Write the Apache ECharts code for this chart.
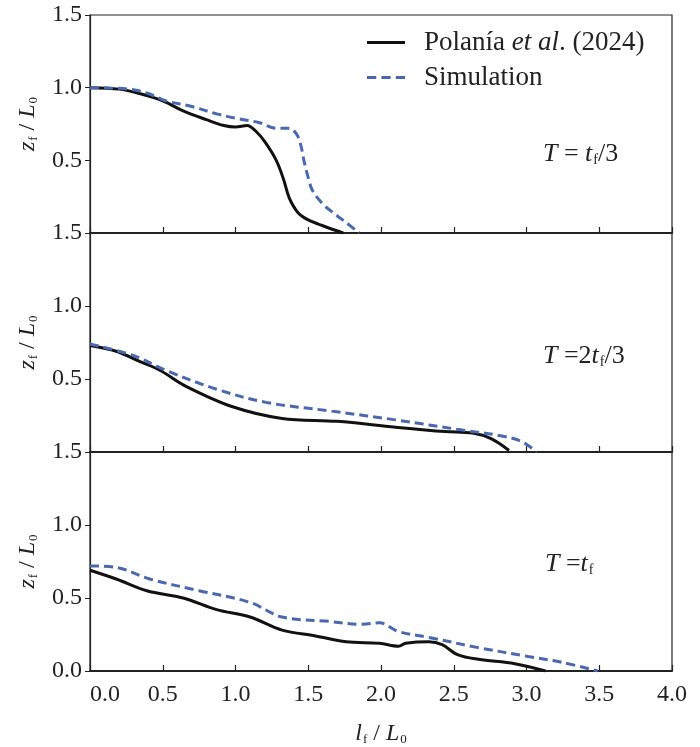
<!DOCTYPE html>
<html>
<head>
<meta charset="utf-8">
<script src="https://cdn.jsdelivr.net/npm/echarts@6/dist/echarts.min.js"></script>
<style>
  html, body { margin: 0; padding: 0; background: #fff; }
  .chartBox { width: 700px; height: 747px; }
</style>
</head>
<body>
<div class="chartBox"></div>
<script>
// x ticks shared by all panels
const xTicks = [0, 0.5, 1.0, 1.5, 2.0, 2.5, 3.0, 3.5, 4.0];
const yTicks = [0, 0.5, 1.0, 1.5];

const seriesNames = ['Polanía et al. (2024)', 'Simulation'];

// panel 1, T = tf/3
const p1ExpX = [0, 0.2, 0.34, 0.5, 0.64, 0.8, 0.92, 1.0, 1.08, 1.14, 1.2, 1.28, 1.33, 1.37, 1.43, 1.5, 1.6, 1.74];
const p1ExpY = [1.0, 0.99, 0.96, 0.91, 0.84, 0.78, 0.74, 0.73, 0.74, 0.70, 0.63, 0.50, 0.37, 0.24, 0.14, 0.09, 0.05, 0.0];
const p1SimX = [0, 0.27, 0.4, 0.52, 0.7, 0.87, 1.0, 1.16, 1.28, 1.37, 1.42, 1.45, 1.47, 1.5, 1.53, 1.6, 1.67, 1.75, 1.85];
const p1SimY = [1.0, 0.99, 0.96, 0.91, 0.87, 0.82, 0.79, 0.76, 0.72, 0.72, 0.68, 0.60, 0.50, 0.38, 0.29, 0.20, 0.14, 0.08, 0.0];

// panel 2, T = 2tf/3
const p2ExpX = [0, 0.18, 0.34, 0.48, 0.66, 0.98, 1.32, 1.7, 2.1, 2.44, 2.63, 2.76, 2.88];
const p2ExpY = [0.73, 0.69, 0.62, 0.56, 0.45, 0.31, 0.23, 0.21, 0.17, 0.14, 0.13, 0.09, 0.01];
const p2SimX = [0, 0.3, 0.52, 0.87, 1.21, 1.66, 2.1, 2.56, 2.83, 2.97, 3.07];
const p2SimY = [0.74, 0.66, 0.56, 0.43, 0.34, 0.28, 0.22, 0.15, 0.11, 0.07, 0.0];

// panel 3, T = tf
const p3ExpX = [0, 0.18, 0.39, 0.64, 0.87, 1.1, 1.32, 1.55, 1.76, 1.99, 2.12, 2.17, 2.33, 2.42, 2.53, 2.67, 2.92, 3.13];
const p3ExpY = [0.69, 0.63, 0.55, 0.50, 0.42, 0.37, 0.28, 0.24, 0.20, 0.19, 0.17, 0.19, 0.20, 0.18, 0.11, 0.08, 0.05, 0.0];
const p3SimX = [0, 0.18, 0.41, 0.75, 1.1, 1.32, 1.64, 1.87, 1.99, 2.12, 2.33, 2.67, 3.01, 3.24, 3.49];
const p3SimY = [0.72, 0.71, 0.63, 0.55, 0.47, 0.37, 0.34, 0.32, 0.33, 0.27, 0.23, 0.16, 0.10, 0.06, 0.0];

const FONT = '"Liberation Serif", "DejaVu Serif", serif';
const TXT = '#222';

function pairs(xs, ys){
    return xs.map((x, i) => [x, ys[i]]);
}

// rich styles for subscripts like z_f
function richSet(size){
    return {
        n: { fontFamily: FONT, fontSize: size, color: TXT },
        i: { fontFamily: FONT, fontSize: size, fontStyle: 'italic', color: TXT },
        s: { fontFamily: FONT, fontSize: Math.round(size * 0.55), color: TXT, padding: [Math.round(size * 0.5), 0, 0, 1] }
    };
}

function makeGrid(top, height){
    return {
        left: 90, width: 582, top: top, height: height,
        show: true, borderColor: '#222', borderWidth: 1.2, backgroundColor: 'transparent'
    };
}

function makeXAxis(idx, last){
    return {
        type: 'value', gridIndex: idx, min: 0, max: 4, interval: 0.5,
        axisLine: { show: true, lineStyle: { color: '#222', width: 2 } },
        axisTick: { show: true, inside: true, length: 6, lineStyle: { color: '#222', width: 1.2 } },
        splitLine: { show: false },
        axisLabel: {
            show: last, margin: 12, alignMinLabel: 'left',
            fontFamily: FONT, fontSize: 24, color: TXT,
            formatter: v => v.toFixed(1)
        },
        name: last ? '{i|l}{s|f}{n| / }{i|L}{s|0}' : '',
        nameLocation: 'middle', nameGap: 50,
        nameTextStyle: { rich: richSet(24) }
    };
}

function makeYAxis(idx, last){
    return {
        type: 'value', gridIndex: idx, min: 0, max: 1.5, interval: 0.5,
        axisLine: { show: true, lineStyle: { color: '#222', width: 1.2 } },
        axisTick: { show: true, inside: false, length: 5, lineStyle: { color: '#222', width: 1 } },
        splitLine: { show: false },
        axisLabel: {
            margin: 8, fontFamily: FONT, fontSize: 24, color: TXT,
            formatter: v => (v === 0 && !last) ? '' : v.toFixed(1)
        },
        name: '{i|z}{s|f}{n| / }{i|L}{s|0}',
        nameLocation: 'middle', nameRotate: 90, nameGap: 50,
        nameTextStyle: { rich: richSet(24) }
    };
}

function expLine(idx, data){
    return {
        name: seriesNames[0], type: 'line', xAxisIndex: idx, yAxisIndex: idx,
        data: data, showSymbol: false, symbol: 'none', smooth: 0.35,
        lineStyle: { color: '#111', width: 3, type: 'solid' },
        itemStyle: { color: '#111' }
    };
}

function simLine(idx, data){
    return {
        name: seriesNames[1], type: 'line', xAxisIndex: idx, yAxisIndex: idx,
        data: data, showSymbol: false, symbol: 'none', smooth: 0.35,
        lineStyle: { color: '#4a68b0', width: 3, type: [9, 5] },
        itemStyle: { color: '#4a68b0' }
    };
}

function panelLabel(x, y, parts){
    return {
        type: 'text', left: x, top: y,
        style: { text: parts, rich: richSet(26), fill: TXT }
    };
}

function createChart(){
    let chartDom = document.querySelector('.chartBox');
    let myChart = echarts.init(chartDom);
    let option;

    option = {
        backgroundColor: '#fff',
        animation: false,
        grid: [makeGrid(15, 218), makeGrid(233, 219), makeGrid(452, 219)],
        xAxis: [makeXAxis(0, false), makeXAxis(1, false), makeXAxis(2, true)],
        yAxis: [makeYAxis(0, false), makeYAxis(1, false), makeYAxis(2, true)],
        legend: {
            orient: 'vertical', left: 362, top: 24, itemGap: 8,
            itemWidth: 38, itemHeight: 3, symbolKeepAspect: false,
            data: [
                { name: seriesNames[0], icon: 'path://M0,0H36V3H0Z' },
                { name: seriesNames[1], icon: 'path://M0,0H9V3H0Z M14,0H23V3H14Z M28,0H37V3H28Z' }
            ],
            textStyle: { rich: richSet(27), fontFamily: FONT, fontSize: 27, color: TXT, padding: [0, 0, 0, 14] },
            formatter: function(name){
                if (name === seriesNames[0]) return '{n|Polanía }{i|et al}{n|. (2024)}';
                return '{n|' + name + '}';
            }
        },
        graphic: [
            panelLabel(543, 141, '{i|T}{n| = }{i|t}{s|f}{n|/3}'),
            panelLabel(543, 343, '{i|T}{n| =2}{i|t}{s|f}{n|/3}'),
            panelLabel(545, 551, '{i|T}{n| =}{i|t}{s|f}')
        ],
        series: [
            expLine(0, pairs(p1ExpX, p1ExpY)),
            simLine(0, pairs(p1SimX, p1SimY)),
            expLine(1, pairs(p2ExpX, p2ExpY)),
            simLine(1, pairs(p2SimX, p2SimY)),
            expLine(2, pairs(p3ExpX, p3ExpY)),
            simLine(2, pairs(p3SimX, p3SimY))
        ]
    };

    option && myChart.setOption(option);
}

document.addEventListener('DOMContentLoaded', function() {
    createChart();
});
</script>
</body>
</html>
